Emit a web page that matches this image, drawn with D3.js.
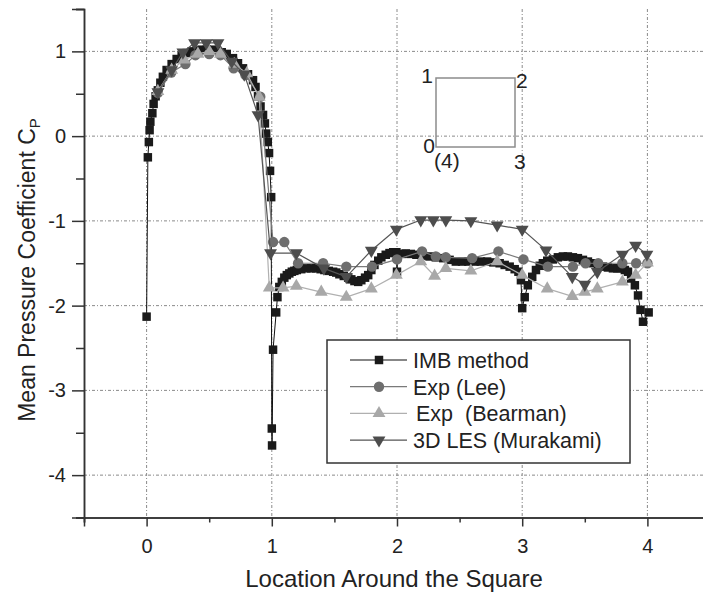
<!DOCTYPE html>
<html>
<head>
<meta charset="utf-8">
<script src="https://cdn.jsdelivr.net/npm/d3@7"></script>
<style>
  body { margin: 0; background: #fff; }
  text { font-family: "Liberation Sans", Arial, Helvetica, sans-serif; fill: #222; }
</style>
</head>
<body>
<div id="chart"></div>
<script>
// IMB method (dense squares)
var imbX = [0.000, 0.010, 0.018, 0.024, 0.030, 0.046, 0.056, 0.072, 0.090, 0.110, 0.130, 0.160, 0.200, 0.240, 0.280,
    0.320, 0.360, 0.400, 0.440, 0.480, 0.520, 0.560, 0.600, 0.640, 0.690, 0.730, 0.770, 0.810, 0.850, 0.870, 0.890,
    0.910, 0.930, 0.945, 0.955, 0.968, 0.978, 0.986, 0.995, 1.000, 1.002, 1.010, 1.035, 1.045, 1.060, 1.080, 1.100,
    1.120, 1.140, 1.160, 1.180, 1.200, 1.235, 1.275, 1.315, 1.355, 1.390, 1.420, 1.455, 1.490, 1.515, 1.540, 1.575,
    1.610, 1.635, 1.660, 1.690, 1.715, 1.745, 1.770, 1.795, 1.820, 1.850, 1.875, 1.910, 1.940, 1.970, 1.995, 2.000,
    2.005, 2.040, 2.070, 2.110, 2.155, 2.200, 2.260, 2.310, 2.370, 2.420, 2.470, 2.520, 2.570, 2.620, 2.670, 2.720,
    2.770, 2.820, 2.860, 2.900, 2.940, 2.970, 2.990, 3.000, 3.020, 3.045, 3.080, 3.110, 3.140, 3.165, 3.200, 3.245,
    3.285, 3.325, 3.365, 3.405, 3.445, 3.485, 3.525, 3.565, 3.605, 3.645, 3.685, 3.725, 3.760, 3.790, 3.820, 3.845,
    3.870, 3.900, 3.925, 3.945, 3.965, 4.010];
var imbY = [-2.13, -0.25, -0.07, 0.07, 0.17, 0.27, 0.38, 0.47, 0.54, 0.63, 0.70, 0.78, 0.85, 0.91, 0.95,
    0.98, 1.00, 1.01, 1.02, 1.02, 1.02, 1.01, 0.99, 0.97, 0.92, 0.86, 0.80, 0.73, 0.66, 0.58, 0.47,
    0.35, 0.25, 0.15, 0.03, -0.07, -0.20, -0.41, -0.72, -3.45, -3.65, -2.52, -2.08, -1.90, -1.78, -1.72, -1.67,
    -1.64, -1.62, -1.60, -1.59, -1.58, -1.57, -1.56, -1.56, -1.56, -1.57, -1.58, -1.59, -1.60, -1.61, -1.63, -1.65,
    -1.67, -1.69, -1.71, -1.72, -1.70, -1.67, -1.64, -1.58, -1.52, -1.47, -1.43, -1.40, -1.38, -1.37, -1.37, -1.60,
    -1.42, -1.39, -1.385, -1.39, -1.40, -1.41, -1.42, -1.43, -1.44, -1.46, -1.48, -1.48, -1.48, -1.48, -1.48, -1.48,
    -1.49, -1.50, -1.52, -1.54, -1.57, -1.60, -1.70, -2.03, -1.90, -1.76, -1.66, -1.58, -1.53, -1.50, -1.47, -1.455,
    -1.43, -1.42, -1.42, -1.43, -1.44, -1.46, -1.48, -1.50, -1.52, -1.54, -1.55, -1.56, -1.56, -1.56, -1.58, -1.60,
    -1.68, -1.76, -1.88, -2.05, -2.19, -2.08];

// Exp (Lee)
var leeX = [0.09, 0.197, 0.31, 0.39, 0.50, 0.59, 0.695, 0.79, 0.908, 1.01, 1.10, 1.21, 1.41, 1.595, 1.80, 2.00,
    2.20, 2.31, 2.39, 2.60, 2.81, 3.01, 3.205, 3.405, 3.506, 3.607, 3.80, 3.91, 4.00];
var leeY = [0.51, 0.75, 0.85, 0.955, 0.967, 0.955, 0.80, 0.72, 0.465, -1.25, -1.25, -1.50, -1.50, -1.54, -1.54, -1.455,
    -1.36, -1.42, -1.43, -1.44, -1.36, -1.455, -1.54, -1.54, -1.50, -1.50, -1.50, -1.50, -1.50];

// Exp (Bearman)
var bearX = [0.09, 0.20, 0.30, 0.41, 0.50, 0.59, 0.70, 0.80, 0.90, 0.98, 1.09, 1.196, 1.395, 1.595, 1.795, 1.995,
    2.19, 2.30, 2.39, 2.59, 2.80, 3.00, 3.20, 3.40, 3.50, 3.60, 3.80, 3.906, 4.00];
var bearY = [0.53, 0.78, 0.90, 0.97, 1.00, 0.97, 0.85, 0.74, 0.46, -1.79, -1.79, -1.77, -1.84, -1.90, -1.80, -1.64,
    -1.48, -1.65, -1.56, -1.59, -1.48, -1.64, -1.80, -1.89, -1.84, -1.80, -1.72, -1.64, -1.495];

// 3D LES (Murakami)
var lesX = [0.09, 0.20, 0.29, 0.383, 0.477, 0.57, 0.68, 0.78, 0.89, 0.99, 1.196, 1.416, 1.595, 1.795, 1.995,
    2.19, 2.29, 2.39, 2.59, 2.80, 3.00, 3.19, 3.40, 3.50, 3.60, 3.80, 3.906, 3.996];
var lesY = [0.52, 0.78, 0.99, 1.10, 1.10, 1.10, 0.88, 0.73, 0.25, -1.38, -1.38, -1.56, -1.66, -1.35, -1.10,
    -0.99, -0.99, -0.99, -1.00, -1.05, -1.10, -1.345, -1.66, -1.75, -1.60, -1.395, -1.29, -1.395];

var xTicks = [0, 1, 2, 3, 4];
var yTicks = [1, 0, -1, -2, -3, -4];
var xMinor = [-0.5, 0.5, 1.5, 2.5, 3.5];
var yMinor = [1.5, 0.5, -0.5, -1.5, -2.5, -3.5, -4.5];

var width = 703, height = 595;

var svg = d3.select("#chart")
    .append("svg")
    .attr("width", width)
    .attr("height", height);

svg.append("rect").attr("width", width).attr("height", height).attr("fill", "#fff");

var x = d3.scaleLinear().domain([-0.5, 4.5]).range([84, 710]);
var y = d3.scaleLinear().domain([-4.5, 1.5]).range([517.5, 9]);

// grid
svg.append("g").selectAll("line")
    .data(xTicks).enter().append("line")
    .attr("x1", function (d) { return x(d); })
    .attr("x2", function (d) { return x(d); })
    .attr("y1", y(1.5)).attr("y2", y(-4.5))
    .attr("stroke", "#8a8a8a").attr("stroke-width", 1)
    .attr("stroke-dasharray", "3,2,1,2");
svg.append("g").selectAll("line")
    .data(yTicks).enter().append("line")
    .attr("y1", function (d) { return y(d); })
    .attr("y2", function (d) { return y(d); })
    .attr("x1", x(-0.5)).attr("x2", width)
    .attr("stroke", "#8a8a8a").attr("stroke-width", 1)
    .attr("stroke-dasharray", "3,2,1,2");

// axes (plain hyphen minus like the original)
var fmt = function (d) { return String(d); };
svg.append("g")
    .attr("transform", "translate(0," + y(-4.5) + ")")
    .call(d3.axisBottom(x).tickValues(xTicks).tickSize(9).tickPadding(12).tickFormat(fmt));
svg.append("g")
    .attr("transform", "translate(0," + y(-4.5) + ")")
    .call(d3.axisBottom(x).tickValues(xMinor).tickSize(5).tickFormat(""));
svg.append("g")
    .attr("transform", "translate(" + x(-0.5) + ",0)")
    .call(d3.axisLeft(y).tickValues(yTicks).tickSize(12).tickPadding(6).tickFormat(fmt));
svg.append("g")
    .attr("transform", "translate(" + x(-0.5) + ",0)")
    .call(d3.axisLeft(y).tickValues(yMinor).tickSize(8).tickFormat(""));

svg.selectAll(".domain").attr("stroke", "#333").attr("stroke-width", 1.5);
svg.selectAll(".tick line").attr("stroke", "#333").attr("stroke-width", 1.5);
svg.selectAll(".tick text")
    .attr("font-size", 20)
    .style("font-size", "20px")
    .style("font-family", "'Liberation Sans', Arial, sans-serif")
    .attr("fill", "#222");

// axis titles
svg.append("text")
    .attr("x", 394)
    .attr("y", 587)
    .attr("text-anchor", "middle")
    .style("font-size", "24px")
    .text("Location Around the Square");

var yt = svg.append("text")
    .attr("transform", "translate(35,270) rotate(-90)")
    .attr("text-anchor", "middle")
    .style("font-size", "23px");
yt.append("tspan").text("Mean Pressure Coefficient C");
yt.append("tspan").attr("dy", 5).style("font-size", "15px").text("P");

// series
function zip(xs, ys) {
    return xs.map(function (d, i) { return { x: d, y: ys[i] }; });
}

var series = [
    { name: "IMB method", data: zip(imbX, imbY), line: "#111", fill: "#1a1a1a", symbol: d3.symbolSquare, size: 72, rot: 0, lw: 1 },
    { name: "Exp (Lee)", data: zip(leeX, leeY), line: "#7a7a7a", fill: "#6e6e6e", symbol: d3.symbolCircle, size: 85, rot: 0, lw: 1.2 },
    { name: "Exp  (Bearman)", data: zip(bearX, bearY), line: "#b0b0b0", fill: "#a8a8a8", symbol: d3.symbolTriangle, size: 72, rot: 0, lw: 1.2 },
    { name: "3D LES (Murakami)", data: zip(lesX, lesY), line: "#555", fill: "#4d4d4d", symbol: d3.symbolTriangle, size: 72, rot: 180, lw: 1.2 }
];

var line = d3.line()
    .x(function (d) { return x(d.x); })
    .y(function (d) { return y(d.y); });

series.forEach(function (s) {
    svg.append("path")
        .datum(s.data)
        .attr("d", line)
        .attr("fill", "none")
        .attr("stroke", s.line)
        .attr("stroke-width", s.lw);
    svg.append("g").selectAll("path")
        .data(s.data).enter().append("path")
        .attr("d", d3.symbol().type(s.symbol).size(s.size))
        .attr("transform", function (d) { return "translate(" + x(d.x) + "," + y(d.y) + ") rotate(" + s.rot + ")"; })
        .attr("fill", s.fill);
});

// inset square with corner numbers
svg.append("rect")
    .attr("x", 436).attr("y", 78)
    .attr("width", 79).attr("height", 69)
    .attr("fill", "none")
    .attr("stroke", "#8c8c8c")
    .attr("stroke-width", 1.5);
var corners = [
    { t: "1", x: 433, y: 83, a: "end" },
    { t: "2", x: 516, y: 88, a: "start" },
    { t: "0", x: 435, y: 153, a: "end" },
    { t: "(4)", x: 434, y: 168, a: "start" },
    { t: "3", x: 514, y: 169, a: "start" }
];
svg.append("g").selectAll("text")
    .data(corners).enter().append("text")
    .attr("x", function (d) { return d.x; })
    .attr("y", function (d) { return d.y; })
    .attr("text-anchor", function (d) { return d.a; })
    .style("font-size", "21px")
    .text(function (d) { return d.t; });

// legend
var legend = svg.append("g");
legend.append("rect")
    .attr("x", 327).attr("y", 340)
    .attr("width", 303).attr("height", 123)
    .attr("fill", "#fff")
    .attr("stroke", "#333")
    .attr("stroke-width", 1.5);

var rows = legend.selectAll(".row")
    .data(series).enter().append("g")
    .attr("transform", function (d, i) { return "translate(0," + (360 + i * 26.7) + ")"; });
rows.append("line")
    .attr("x1", 350).attr("x2", 407)
    .attr("stroke", function (d) { return d.line; })
    .attr("stroke-width", 1.2);
rows.append("path")
    .attr("d", function (d) { return d3.symbol().type(d.symbol).size(d.size)(); })
    .attr("transform", function (d) { return "translate(379,0) rotate(" + d.rot + ")"; })
    .attr("fill", function (d) { return d.fill; });
rows.append("text")
    .attr("x", function (d, i) { return i == 2 ? 416 : 413; })
    .attr("y", 8)
    .style("font-size", "21.5px")
    .style("white-space", "pre")
    .text(function (d) { return d.name; });
</script>
</body>
</html>
